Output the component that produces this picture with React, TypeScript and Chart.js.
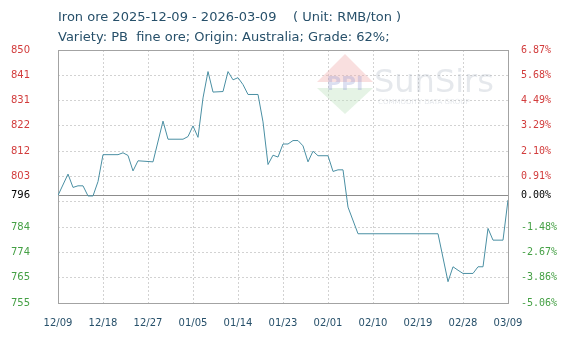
import React, { useEffect, useRef } from 'react';
import { Chart, registerables } from 'chart.js';
Chart.register(...registerables);

const titleLine1 = 'Iron ore 2025-12-09 - 2026-03-09    ( Unit: RMB/ton )';
const titleLine2 = 'Variety: PB  fine ore; Origin: Australia; Grade: 62%;';

const xTickLabels = ['12/09', '12/18', '12/27', '01/05', '01/14', '01/23', '02/01', '02/10', '02/19', '02/28', '03/09'];

// days since 2025-12-09
const dayOffsets = [0, 2, 3, 4, 5, 6, 7, 8, 9, 12, 13, 14, 15, 16, 19, 21, 22, 25, 26, 27, 28, 29, 30, 31, 33, 34, 35, 36, 37, 38, 40, 41, 42, 43, 44, 45, 46, 47, 48, 49, 50, 51, 52, 54, 55, 56, 57, 58, 60, 76, 78, 79, 80, 81, 83, 84, 85, 86, 87, 89, 90];
const prices = [795.4, 803.4, 798.4, 799, 799, 795.2, 795.2, 800.6, 810.7, 810.7, 811.4, 810.4, 804.6, 808.4, 808, 823.3, 816.5, 816.5, 817.5, 821.5, 817.2, 832, 841.9, 834.2, 834.4, 841.9, 838.8, 839.6, 837, 833.3, 833.3, 823, 807, 810.5, 809.8, 814.7, 814.7, 816, 816, 814, 808, 812, 810.3, 810.3, 804.4, 805, 805, 791, 781, 781, 763, 768.6, 767.3, 766.1, 766.1, 768.6, 768.6, 783, 778.6, 778.6, 793.7];

const basePrice = 795.4;
const yTickValues = [755, 764.5, 774, 783.5, 793, 795.4, 802.5, 812, 821.5, 831, 840.5, 850];
const yLeftLabels = ['755', '765', '774', '784', '', '796', '803', '812', '822', '831', '841', '850'];
const yRightLabels = ['-5.06%', '-3.86%', '-2.67%', '-1.48%', '', '0.00%', '0.91%', '2.10%', '3.29%', '4.49%', '5.68%', '6.87%'];

const RED = '#d23c3c';
const GREEN = '#45a045';
const GRID = '#d2d2d2';
const FRAME = '#a3a3a3';
const TEXT = '#27506a';

function tickColor(ctx: any) {
  const v = ctx.tick ? ctx.tick.value : 0;
  if (Math.abs(v - basePrice) < 0.01) return '#000000';
  return v > basePrice ? RED : GREEN;
}
function gridColor(ctx: any) {
  const v = ctx.tick ? ctx.tick.value : 0;
  if (Math.abs(v - basePrice) < 0.01) return 'rgba(0,0,0,0)';
  return GRID;
}

const decorPlugin = {
  id: 'decor',
  beforeDatasetsDraw(chart: any) {
    const { ctx, chartArea } = chart;
    const { left, right, top, bottom } = chartArea;
    ctx.save();
    // watermark
    ctx.globalAlpha = 0.4;
    ctx.fillStyle = '#f0b0b0';
    ctx.beginPath();
    ctx.moveTo(345, 54);
    ctx.lineTo(373, 82);
    ctx.lineTo(317, 82);
    ctx.closePath();
    ctx.fill();
    ctx.fillStyle = '#bfe0bf';
    ctx.beginPath();
    ctx.moveTo(317, 88);
    ctx.lineTo(373, 88);
    ctx.lineTo(345, 114);
    ctx.closePath();
    ctx.fill();
    ctx.globalAlpha = 0.3;
    ctx.fillStyle = '#8c96d0';
    ctx.font = 'bold 20px "DejaVu Sans"';
    ctx.textAlign = 'center';
    ctx.textBaseline = 'middle';
    ctx.fillText('PPI', 345, 85);
    ctx.globalAlpha = 0.3;
    ctx.fillStyle = '#aab4c0';
    ctx.font = '32px "DejaVu Sans"';
    ctx.textAlign = 'left';
    ctx.textBaseline = 'alphabetic';
    ctx.fillText('SunSirs', 374, 92);
    ctx.font = '7px "DejaVu Sans"';
    ctx.fillText('COMMODITY DATA GROUP', 378, 104);
    ctx.globalAlpha = 1;
    // base line
    const yb = Math.round(chart.scales.y.getPixelForValue(basePrice)) + 0.5;
    ctx.strokeStyle = '#8c8c8c';
    ctx.lineWidth = 1;
    ctx.beginPath();
    ctx.moveTo(left, yb);
    ctx.lineTo(right, yb);
    ctx.stroke();
    // frame
    ctx.strokeStyle = FRAME;
    ctx.strokeRect(Math.round(left) + 0.5, Math.round(top) + 0.5, Math.round(right - left), Math.round(bottom - top));
    ctx.restore();
  },
  afterDraw(chart: any) {
    const { ctx } = chart;
    ctx.save();
    ctx.fillStyle = TEXT;
    ctx.font = '13px "DejaVu Sans"';
    ctx.textAlign = 'left';
    ctx.textBaseline = 'middle';
    ctx.fillText(titleLine1, 58, 18);
    ctx.fillText(titleLine2, 58, 38);
    ctx.restore();
  },
};

export default function App() {
  const ref = useRef<HTMLCanvasElement | null>(null);
  useEffect(() => {
    if (!ref.current) return;
    const points = dayOffsets.map((d, i) => ({ x: d, y: prices[i] }));
    const chart = new Chart(ref.current, {
      type: 'line',
      data: {
        datasets: [
          {
            data: points,
            borderColor: '#4a8fa3',
            borderWidth: 1,
            pointRadius: 0,
            tension: 0,
            fill: false,
          },
        ],
      },
      options: {
        animation: false,
        responsive: false,
        devicePixelRatio: 1,
        layout: { padding: { top: 50, left: 0, right: 0, bottom: 0 } },
        plugins: { legend: { display: false }, tooltip: { enabled: false }, title: { display: false } },
        scales: {
          x: {
            type: 'linear',
            min: 0,
            max: 90,
            afterBuildTicks: (scale: any) => {
              scale.ticks = xTickLabels.map((_, i) => ({ value: i * 9 }));
            },
            afterFit: (scale: any) => {
              scale.height = 35;
            },
            ticks: {
              autoSkip: false,
              maxRotation: 0,
              padding: 14,
              color: TEXT,
              font: { family: 'DejaVu Sans', size: 10 },
              callback: (_v: any, i: number) => xTickLabels[i],
            },
            grid: { color: GRID, drawTicks: false },
            border: { display: false, dash: [2, 2] },
          },
          y: {
            type: 'linear',
            position: 'left',
            min: 755,
            max: 850,
            afterBuildTicks: (scale: any) => {
              scale.ticks = yTickValues.map((v) => ({ value: v }));
            },
            afterFit: (scale: any) => {
              scale.width = 58;
            },
            ticks: {
              autoSkip: false,
              padding: 28,
              color: tickColor,
              font: { family: 'DejaVu Sans', size: 10 },
              callback: (_v: any, i: number) => yLeftLabels[i],
            },
            grid: { color: gridColor, drawTicks: false },
            border: { display: false, dash: [2, 2] },
          },
          y2: {
            type: 'linear',
            position: 'right',
            min: 755,
            max: 850,
            afterBuildTicks: (scale: any) => {
              scale.ticks = yTickValues.map((v) => ({ value: v }));
            },
            afterFit: (scale: any) => {
              scale.width = 62;
            },
            ticks: {
              autoSkip: false,
              padding: 13,
              color: tickColor,
              font: { family: 'DejaVu Sans Mono', size: 10 },
              callback: (_v: any, i: number) => yRightLabels[i],
            },
            grid: { display: false, drawTicks: false },
            border: { display: false },
          },
        },
      },
      plugins: [decorPlugin],
    } as any);
    return () => chart.destroy();
  }, []);
  return (
    <div style={{ position: 'fixed', left: 0, top: 0, width: 570, height: 338, background: '#ffffff' }}>
      <canvas ref={ref} width={570} height={338} />
    </div>
  );
}
